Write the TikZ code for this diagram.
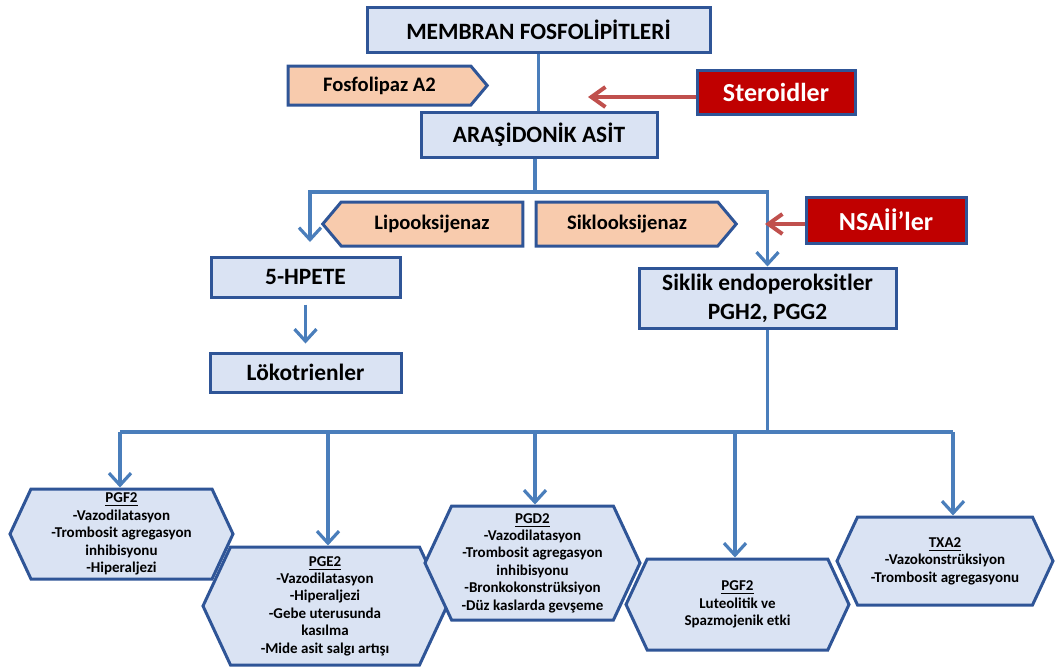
\documentclass[tikz,border=0pt]{standalone}
\usepackage{fontspec}
\setmainfont{Carlito}
\usepackage{xcolor}
\usepackage{tikz}
\usetikzlibrary{arrows.meta,positioning,shapes.symbols}
\definecolor{boxblue}{RGB}{218,227,243}
\definecolor{edgeblue}{RGB}{47,85,151}
\definecolor{lineblue}{RGB}{74,126,187}
\definecolor{peach}{RGB}{248,203,173}
\definecolor{drugred}{RGB}{192,0,0}
\definecolor{arrowred}{RGB}{192,80,77}
\tikzset{mainbox/.style={draw=edgeblue, fill=boxblue, line width=1.5pt, inner sep=0pt, align=center,
  font=\fontsize{11.7}{14.5}\selectfont\bfseries},
enzyme/.style={shape=signal, signal pointer angle=100, draw=edgeblue, fill=peach, line width=1.5pt, inner sep=0pt,
  font=\fontsize{10.3}{12}\selectfont\bfseries},
drug/.style={draw=edgeblue, fill=drugred, text=white, line width=1.5pt, inner sep=0pt,
  font=\fontsize{13}{15}\selectfont\bfseries},
hexbox/.style={shape=signal, signal to=west and east, signal pointer angle=130, draw=edgeblue, fill=boxblue,
  line width=1.5pt, inner sep=0pt, align=center, font=\fontsize{7.5}{8.7}\selectfont\bfseries},
link/.style={draw=lineblue, line width=1.6pt},
flow/.style={link, -{Straight Barb[length=6pt,width=11pt]}},
inhibit/.style={draw=arrowred, line width=2pt, -{Straight Barb[length=7pt,width=10pt]}}}
\begin{document}
\begin{tikzpicture}[x=0.5pt,y=-0.5pt]
  \useasboundingbox (0,0) rectangle (1055,670);

  % upper part
  \node[mainbox, minimum width=171.5pt, minimum height=22.5pt] at (538.5,29.5) (memb) {MEMBRAN FOSFOLİPİTLERİ};
  \node[enzyme, signal to=east, minimum width=99.5pt, minimum height=19.5pt] at (379.5,85.5) (fosf) {Fosfolipaz A2};
  \node[drug, minimum width=79pt, minimum height=22pt] at (776,92) (ster) {Steroidler};
  \node[mainbox, minimum width=118pt, minimum height=22.5pt] at (539,134.5) (aras) {ARAŞİDONİK ASİT};

  \node[enzyme, signal to=west, minimum width=100pt, minimum height=22pt] at (432,224) (lipo) {Lipooksijenaz};
  \node[enzyme, signal to=east, minimum width=100pt, minimum height=22pt] at (627,224) (sikl) {Siklooksijenaz};
  \node[drug, minimum width=80pt, minimum height=23pt] at (886,220) (nsai) {NSAİİ’ler};

  \node[mainbox, minimum width=94.5pt, minimum height=20pt] at (305.5,277) (hpete) {5-HPETE};
  \node[mainbox, minimum width=95.5pt, minimum height=19.5pt] at (305.5,372.5) (loko) {Lökotrienler};
  \node[mainbox, minimum width=128.5pt, minimum height=30pt] at (767.5,298) (sikend) {Siklik endoperoksitler\\PGH2, PGG2};

  % prostanoids
  \node[hexbox, minimum width=111.5pt, minimum height=45pt] at (121.5,534) (pgfa)
    {\underline{PGF2}\\-Vazodilatasyon\\-Trombosit agregasyon\\inhibisyonu\\-Hiperaljezi};
  \node[hexbox, minimum width=122pt, minimum height=59pt] at (325,606) (pge)
    {\underline{PGE2}\\-Vazodilatasyon\\-Hiperaljezi\\-Gebe uterusunda\\kasılma\\-Mide asit salgı artışı};
  \node[hexbox, minimum width=107.5pt, minimum height=57pt] at (532.5,563) (pgd)
    {\underline{PGD2}\\-Vazodilatasyon\\-Trombosit agregasyon\\inhibisyonu\\-Bronkokonstrüksiyon\\-Düz kaslarda gevşeme};
  \node[hexbox, minimum width=111.5pt, minimum height=45.5pt] at (737.5,604.5) (pgfb)
    {\underline{PGF2}\\Luteolitik ve\\Spazmojenik etki};
  \node[hexbox, minimum width=108pt, minimum height=44pt] at (945,561) (txa)
    {\underline{TXA2}\\-Vazokonstrüksiyon\\-Trombosit agregasyonu};

  % connectors
  \draw[link, line width=1.2pt] (memb.south) -- (memb.south |- aras.north);
  \coordinate (split) at (535,192);
  \coordinate (lipoend) at (310,242);
  \draw[link] (aras.south -| split) -- (split);
  \draw[flow] (split) -| (lipoend);
  \draw[flow] (split) -| (sikend.north);
  \draw[flow, shorten <=3pt, shorten >=4pt] (hpete) -- (loko);

  \coordinate (sterend) at (588,97);
  \coordinate (nsaiend) at (765,224);
  \draw[inhibit] (ster.west |- sterend) -- (sterend);
  \draw[inhibit] (nsai.west |- nsaiend) -- (nsaiend);

  \foreach \x/\n in {120/pgfa,328/pge,535/pgd,735/pgfb,953/txa}
  {
    \coordinate (top\n) at (\x,432);
    \draw[flow] (top\n) -- (top\n |- \n.north);
  }
  \draw[link] (toppgfa) -- (toptxa);
  \draw[link] (sikend.south) -- (sikend.south |- toptxa);
\end{tikzpicture}
\end{document}
